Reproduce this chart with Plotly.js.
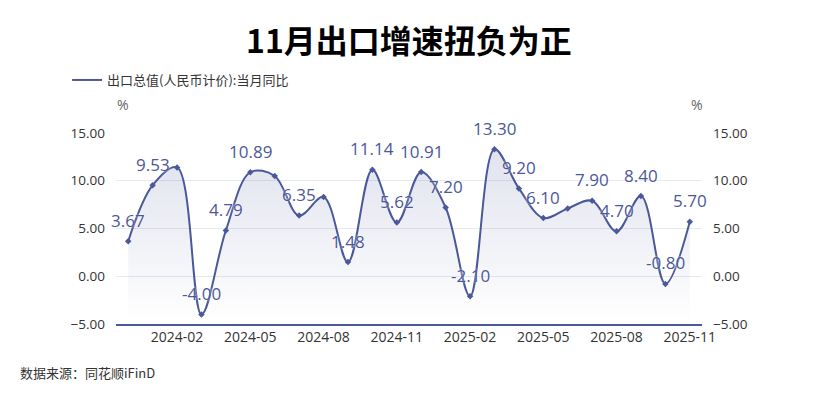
<!DOCTYPE html>
<html>
<head>
<meta charset="utf-8">
<script src="https://cdn.plot.ly/plotly-3.0.1.min.js"></script>
<style>
  html, body { margin: 0; padding: 0; background: #fff; }
  #chart { width: 818px; height: 400px; }
</style>
</head>
<body>
<div id="chart"></div>
<script>
// monthly export growth, RMB terms, y/y %
const months = [
  "2023-12", "2024-01", "2024-02", "2024-03", "2024-04", "2024-05",
  "2024-06", "2024-07", "2024-08", "2024-09", "2024-10", "2024-11",
  "2024-12", "2025-01", "2025-02", "2025-03", "2025-04", "2025-05",
  "2025-06", "2025-07", "2025-08", "2025-09", "2025-10", "2025-11"
];
const growth = [
  3.67, 9.53, 11.4, -4.00, 4.79, 10.89,
  10.5, 6.35, 8.3, 1.48, 11.14, 5.62,
  10.91, 7.20, -2.10, 13.30, 9.20, 6.10,
  7.1, 7.90, 4.70, 8.40, -0.80, 5.70
];
// points that carry a value label in the original
const labelled = [
  true, true, false, true, true, true,
  false, true, false, true, true, true,
  true, true, true, true, true, true,
  false, true, true, true, true, true
];
const tickMonths = ["2024-02", "2024-05", "2024-08", "2024-11", "2025-02", "2025-05", "2025-08", "2025-11"];
const seriesName = "出口总值(人民币计价):当月同比";
const yMin = -5, yMax = 15;

const blue = "#4b5899";
const font = "Noto Sans CJK SC, Noto Sans, sans-serif";
const numFont = "Open Sans, Noto Sans CJK SC, sans-serif";

// invisible line at the bottom of the axis so the area fills down to it
const baseline = {
  x: months,
  y: months.map(() => yMin),
  type: "scatter",
  mode: "lines",
  line: { width: 0, color: "rgba(0,0,0,0)" },
  hoverinfo: "skip",
  showlegend: false
};

const main = {
  x: months,
  y: growth,
  type: "scatter",
  mode: "lines+markers",
  name: seriesName,
  showlegend: false,
  line: { color: blue, width: 2, shape: "spline", smoothing: 1 },
  marker: { color: blue, size: 5, symbol: "diamond" },
  fill: "tonexty",
  fillcolor: "rgba(75,88,153,0.1)",
  fillgradient: {
    type: "vertical",
    colorscale: [[0, "rgba(75,88,153,0.0)"], [1, "rgba(75,88,153,0.17)"]]
  },
  cliponaxis: false
};

// legend-only entry
const legendEntry = {
  x: [null],
  y: [null],
  type: "scatter",
  mode: "lines",
  name: seriesName,
  line: { color: blue, width: 2 }
};

const y2Ghost = {
  x: months,
  y: growth,
  yaxis: "y2",
  type: "scatter",
  mode: "none",
  hoverinfo: "skip",
  showlegend: false
};

const valueLabels = [];
months.forEach((m, i) => {
  if (!labelled[i]) return;
  valueLabels.push({
    x: m, y: growth[i], xref: "x", yref: "y",
    text: growth[i].toFixed(2),
    showarrow: false,
    xanchor: "center", yanchor: "middle",
    yshift: 21,
    font: { family: numFont, size: 17, color: blue, shadow: "0px 0px 3px #fff" }
  });
});

const axisY = {
  range: [yMin, yMax],
  tickvals: [-5, 0, 5, 10, 15],
  tickformat: ".2f",
  tickfont: { family: numFont, size: 13.5, color: "#333" },
  ticklabelstandoff: 10,
  gridcolor: "#e6e8f2",
  zeroline: false,
  showline: false,
  ticks: "",
  fixedrange: true
};

const layout = {
  width: 818,
  height: 400,
  margin: { l: 116, r: 116, t: 133, b: 76 },
  paper_bgcolor: "#fff",
  plot_bgcolor: "#fff",
  font: { family: font, color: "#333" },
  title: {
    text: "<b>11月出口增速扭负为正</b>",
    font: { family: font, size: 32, color: "#000" },
    x: 0.5, xanchor: "center",
    y: 0.895, yanchor: "middle"
  },
  showlegend: true,
  legend: {
    orientation: "h",
    x: 0.082, xanchor: "left",
    y: 0.8, yanchor: "middle",
    xref: "container", yref: "container",
    font: { family: font, size: 13, color: "#333" },
    itemwidth: 30,
    bgcolor: "rgba(0,0,0,0)"
  },
  xaxis: {
    type: "category",
    range: [-0.5, months.length - 0.5],
    tickvals: tickMonths,
    ticktext: tickMonths,
    tickfont: { family: numFont, size: 14, color: "#333" },
    showgrid: false,
    showline: true,
    linecolor: blue,
    linewidth: 1.5,
    ticks: "",
    fixedrange: true
  },
  yaxis: Object.assign({}, axisY),
  yaxis2: Object.assign({}, axisY, { overlaying: "y", side: "right", showgrid: false }),
  annotations: valueLabels.concat([
    { text: "%", xref: "paper", yref: "paper", x: 0.012, y: 1.147, xanchor: "center", yanchor: "middle",
      showarrow: false, font: { family: numFont, size: 14, color: "#666" } },
    { text: "%", xref: "paper", yref: "paper", x: 0.991, y: 1.147, xanchor: "center", yanchor: "middle",
      showarrow: false, font: { family: numFont, size: 14, color: "#666" } },
    { text: "数据来源：同花顺iFinD", xref: "paper", yref: "paper", x: -0.1672, y: -0.255,
      xanchor: "left", yanchor: "middle", showarrow: false,
      font: { family: font, size: 13, color: "#333" } }
  ])
};

Plotly.newPlot("chart", [baseline, main, legendEntry, y2Ghost], layout, { displayModeBar: false, staticPlot: true });
</script>
</body>
</html>
